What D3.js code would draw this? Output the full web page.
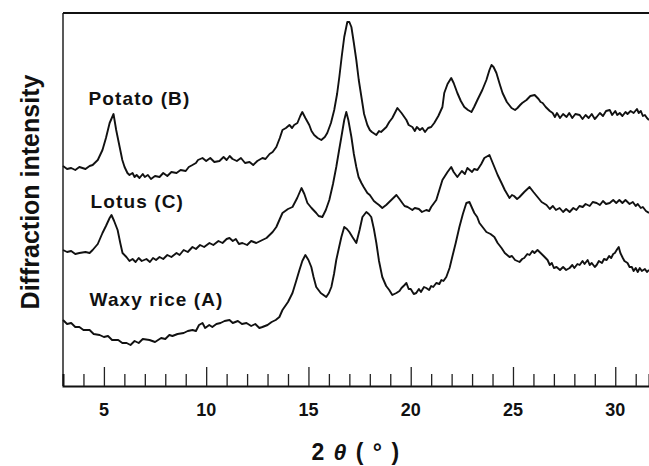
<!doctype html>
<html>
<head>
<meta charset="utf-8"/>
<title>Diffraction intensity</title>
<script src="https://d3js.org/d3.v7.min.js"></script>
<style>
  body { margin: 0; background: #fff; }
  text { font-family: "Liberation Sans", Arial, sans-serif; font-weight: bold; fill: #111; }
</style>
</head>
<body>
<div id="chart"></div>
<script>
// 2 theta (deg) and intensity (arbitrary units, curves already offset)
var potato = [[3.0,220],[3.2,217],[3.4,218],[3.6,216],[3.8,219],[4.1,217],[4.3,220],[4.45,221],[4.7,226],[4.93,236],[5.1,248],[5.28,263],[5.47,272],[5.6,256],[5.77,239],[5.9,226],[6.01,219],[6.15,213],[6.25,211],[6.4,213],[6.5,209],[6.6,211],[6.74,208],[6.9,212],[7.0,209],[7.15,211],[7.3,207],[7.5,210],[7.72,209],[7.9,213],[8.1,210],[8.3,214],[8.55,213],[8.75,216],[9.0,215],[9.15,219],[9.33,221],[9.5,223],[9.6,226],[9.82,228],[10.0,225],[10.2,228],[10.4,224],[10.65,225],[10.85,229],[11.0,226],[11.15,230],[11.29,227],[11.5,225],[11.7,228],[11.9,223],[12.12,224],[12.3,221],[12.5,225],[12.75,228],[12.9,227],[13.1,232],[13.25,234],[13.43,239],[13.6,248],[13.73,256],[13.9,258],[14.07,261],[14.2,258],[14.3,261],[14.46,263],[14.6,270],[14.7,274],[14.85,268],[15.04,261],[15.15,255],[15.28,251],[15.45,248],[15.63,246],[15.8,249],[15.92,253],[16.1,263],[16.26,276],[16.4,292],[16.51,309],[16.63,330],[16.75,349],[16.9,364],[17.0,364],[17.1,359],[17.22,343],[17.34,326],[17.46,306],[17.59,289],[17.72,272],[17.88,261],[18.0,256],[18.1,254],[18.32,251],[18.45,255],[18.55,254],[18.81,259],[18.95,264],[19.1,268],[19.35,278],[19.55,273],[19.79,266],[19.9,261],[20.08,259],[20.2,255],[20.3,259],[20.45,256],[20.57,258],[20.7,254],[20.85,258],[21.0,259],[21.15,263],[21.35,270],[21.55,279],[21.64,293],[21.8,302],[21.98,308],[22.1,303],[22.28,293],[22.45,285],[22.62,279],[22.8,276],[22.97,274],[23.1,279],[23.26,286],[23.5,296],[23.7,306],[23.85,316],[23.95,321],[24.05,319],[24.19,313],[24.35,302],[24.49,293],[24.7,284],[24.93,278],[25.1,276],[25.22,278],[25.35,281],[25.45,283],[25.66,286],[25.85,290],[26.06,291],[26.25,287],[26.35,284],[26.45,283],[26.6,279],[26.7,277],[26.8,275],[26.94,273],[27.05,269],[27.15,273],[27.3,268],[27.45,272],[27.62,269],[27.75,273],[27.9,268],[28.05,272],[28.26,271],[28.4,267],[28.55,271],[28.7,268],[28.85,272],[29.0,267],[29.09,269],[29.25,273],[29.4,270],[29.55,275],[29.73,276],[29.85,271],[30.0,275],[30.1,271],[30.22,273],[30.35,270],[30.5,274],[30.6,272],[30.75,275],[30.9,273],[31.06,277],[31.15,273],[31.25,275],[31.35,270],[31.45,271],[31.55,268],[31.65,266]];

var lotus = [[3.0,136],[3.2,134],[3.4,135],[3.6,132],[3.8,133],[4.1,134],[4.3,133],[4.45,136],[4.7,142],[4.93,153],[5.1,160],[5.28,168],[5.37,171],[5.5,165],[5.67,156],[5.8,143],[5.91,133],[6.1,129],[6.25,125],[6.4,127],[6.55,124],[6.7,128],[6.85,125],[7.08,127],[7.25,124],[7.4,128],[7.55,126],[7.72,129],[7.9,127],[8.1,131],[8.3,129],[8.55,133],[8.7,131],[8.9,136],[9.1,134],[9.33,139],[9.5,137],[9.7,141],[9.9,139],[10.16,143],[10.35,141],[10.6,145],[10.8,143],[11.0,147],[11.14,148],[11.3,145],[11.45,147],[11.6,142],[11.77,143],[12.0,141],[12.2,145],[12.45,143],[12.75,146],[12.95,148],[13.1,151],[13.25,154],[13.43,159],[13.6,167],[13.73,173],[14.0,177],[14.22,179],[14.45,188],[14.66,198],[14.8,192],[14.95,183],[15.15,178],[15.38,173],[15.5,170],[15.68,169],[15.85,176],[16.02,186],[16.2,202],[16.36,219],[16.5,236],[16.61,249],[16.75,266],[16.85,274],[16.95,266],[17.1,249],[17.22,232],[17.34,219],[17.45,209],[17.59,203],[17.7,199],[17.88,193],[18.0,191],[18.1,188],[18.2,185],[18.32,183],[18.45,181],[18.61,178],[18.8,181],[18.95,184],[19.3,191],[19.45,187],[19.59,183],[19.7,180],[19.85,179],[20.08,176],[20.2,178],[20.4,177],[20.55,174],[20.76,176],[20.9,175],[21.0,179],[21.25,186],[21.4,196],[21.55,206],[21.8,214],[21.98,219],[22.1,214],[22.28,209],[22.5,215],[22.65,212],[22.77,218],[23.0,214],[23.1,217],[23.26,216],[23.45,222],[23.6,228],[23.85,231],[23.95,226],[24.09,219],[24.25,211],[24.44,203],[24.6,196],[24.83,188],[24.95,191],[25.05,190],[25.2,187],[25.32,189],[25.55,194],[25.81,199],[26.0,194],[26.2,189],[26.4,184],[26.64,181],[26.8,177],[26.95,180],[27.1,176],[27.28,178],[27.45,174],[27.6,177],[27.77,174],[27.95,178],[28.1,176],[28.25,180],[28.41,179],[28.55,182],[28.75,180],[28.9,184],[29.09,183],[29.25,181],[29.4,185],[29.55,182],[29.73,183],[29.9,186],[30.05,183],[30.2,186],[30.35,183],[30.5,186],[30.7,182],[30.86,184],[31.0,180],[31.1,182],[31.25,178],[31.35,179],[31.5,175],[31.65,173]];

var waxyRice = [[3.0,66],[3.2,62],[3.4,63],[3.6,59],[3.8,59],[4.0,56],[4.3,56],[4.5,52],[4.79,51],[5.0,49],[5.2,50],[5.4,46],[5.7,46],[5.9,43],[6.11,43],[6.3,41],[6.5,45],[6.7,43],[6.9,47],[7.23,46],[7.5,44],[7.8,48],[8.0,47],[8.2,51],[8.35,50],[8.6,52],[8.9,53],[9.1,55],[9.33,56],[9.5,55],[9.65,61],[9.82,63],[9.95,58],[10.15,61],[10.3,59],[10.5,62],[10.7,63],[10.9,65],[11.14,66],[11.3,63],[11.55,65],[11.75,62],[11.97,63],[12.2,60],[12.4,62],[12.6,58],[12.75,59],[13.0,61],[13.2,64],[13.4,66],[13.58,69],[13.73,76],[14.0,84],[14.22,93],[14.4,105],[14.56,116],[14.7,125],[14.85,131],[15.0,126],[15.14,119],[15.25,109],[15.38,99],[15.6,93],[15.87,89],[16.0,93],[16.12,99],[16.25,112],[16.36,126],[16.5,139],[16.61,149],[16.75,159],[16.88,157],[17.0,154],[17.15,149],[17.34,143],[17.5,156],[17.64,169],[17.83,174],[17.95,172],[18.07,169],[18.2,157],[18.32,143],[18.45,125],[18.61,109],[18.8,100],[18.95,96],[19.1,91],[19.3,93],[19.45,95],[19.55,98],[19.7,101],[19.79,103],[19.9,97],[20.0,97],[20.15,92],[20.27,93],[20.4,97],[20.5,94],[20.65,99],[20.76,98],[20.9,96],[21.0,100],[21.1,99],[21.25,103],[21.4,102],[21.5,106],[21.6,105],[21.74,109],[21.9,118],[22.03,129],[22.2,143],[22.38,159],[22.55,172],[22.72,183],[22.87,184],[23.0,178],[23.11,173],[23.25,169],[23.36,163],[23.55,158],[23.7,154],[23.9,152],[24.09,149],[24.25,143],[24.44,138],[24.6,133],[24.83,129],[24.95,130],[25.1,126],[25.32,124],[25.45,127],[25.55,128],[25.7,132],[25.81,131],[25.95,135],[26.05,133],[26.2,136],[26.3,134],[26.5,130],[26.69,126],[26.8,121],[26.9,123],[27.0,118],[27.13,119],[27.3,116],[27.45,119],[27.6,116],[27.77,118],[27.9,121],[28.0,118],[28.15,122],[28.26,121],[28.4,125],[28.5,122],[28.65,126],[28.75,121],[28.85,123],[29.0,119],[29.09,121],[29.2,125],[29.35,123],[29.45,127],[29.58,126],[29.7,130],[29.8,128],[29.9,132],[29.98,133],[30.1,137],[30.17,139],[30.25,133],[30.37,128],[30.45,125],[30.6,123],[30.7,119],[30.81,119],[30.9,115],[31.0,118],[31.1,114],[31.2,118],[31.3,115],[31.45,117],[31.55,114],[31.65,116]];

var series = [
  { name: "Potato (B)", values: potato, labelAt: [4.25, 105] },
  { name: "Lotus (C)", values: lotus, labelAt: [4.35, 208] },
  { name: "Waxy rice (A)", values: waxyRice, labelAt: [4.3, 306] }
];
var tickValues = d3.range(4, 32, 1);
var tickLabels = [5, 10, 15, 20, 25, 30];

var width = 649, height = 466;
var mLeft = 63, mRight = 649, mTop = 13, mBottom = 386;

var svg = d3.select("#chart")
  .append("svg")
  .attr("width", width)
  .attr("height", height);

var x = d3.scaleLinear().domain([3, 31.65]).range([mLeft, mRight]);
var y = d3.scaleLinear().domain([0, 373]).range([mBottom, mTop]);

// frame: left, top and bottom lines only
svg.append("line").attr("x1", mLeft).attr("x2", mLeft).attr("y1", mTop).attr("y2", mBottom)
  .attr("stroke", "#222").attr("stroke-width", 1.5);
svg.append("line").attr("x1", mLeft).attr("x2", mRight).attr("y1", mTop).attr("y2", mTop)
  .attr("stroke", "#111").attr("stroke-width", 2);

// bottom axis, ticks pointing inward
var xAxis = d3.axisBottom(x)
  .tickValues(tickValues)
  .tickSize(-12)
  .tickFormat("");
var gx = svg.append("g")
  .attr("transform", "translate(0," + mBottom + ")")
  .call(xAxis);
gx.select(".domain").attr("stroke", "#111").attr("stroke-width", 2);
gx.selectAll(".tick line")
  .attr("stroke", "#222")
  .attr("stroke-width", 1.3)
  .attr("y2", function(d) { return d % 5 == 0 ? -19 : -12; });

svg.selectAll(".xlab")
  .data(tickLabels)
  .enter().append("text")
  .attr("class", "xlab")
  .attr("x", function(d) { return x(d); })
  .attr("y", 416)
  .attr("text-anchor", "middle")
  .style("font-size", "18px")
  .text(function(d) { return d; });

// curves
var line = d3.line()
  .x(function(d) { return x(d[0]); })
  .y(function(d) { return y(d[1]); });

svg.selectAll(".curve")
  .data(series)
  .enter().append("path")
  .attr("class", "curve")
  .attr("d", function(d) { return line(d.values); })
  .attr("fill", "none")
  .attr("stroke", "#111")
  .attr("stroke-width", 1.9)
  .attr("stroke-linejoin", "round");

svg.selectAll(".clab")
  .data(series)
  .enter().append("text")
  .attr("class", "clab")
  .attr("x", function(d) { return x(d.labelAt[0]); })
  .attr("y", function(d) { return d.labelAt[1]; })
  .style("font-size", "19px")
  .style("letter-spacing", "1.1px")
  .text(function(d) { return d.name; });

// axis titles
var xt = svg.append("text")
  .attr("x", (mLeft + mRight) / 2)
  .attr("y", 460)
  .attr("text-anchor", "middle")
  .style("font-size", "23px")
  .style("letter-spacing", "1.5px");
xt.append("tspan").text("2 ");
xt.append("tspan").style("font-style", "italic").text("θ");
xt.append("tspan").text(" ( ° )");

svg.append("text")
  .attr("transform", "translate(39,192) rotate(-90)")
  .attr("text-anchor", "middle")
  .style("font-size", "25px")
  .text("Diffraction intensity");
</script>
</body>
</html>
